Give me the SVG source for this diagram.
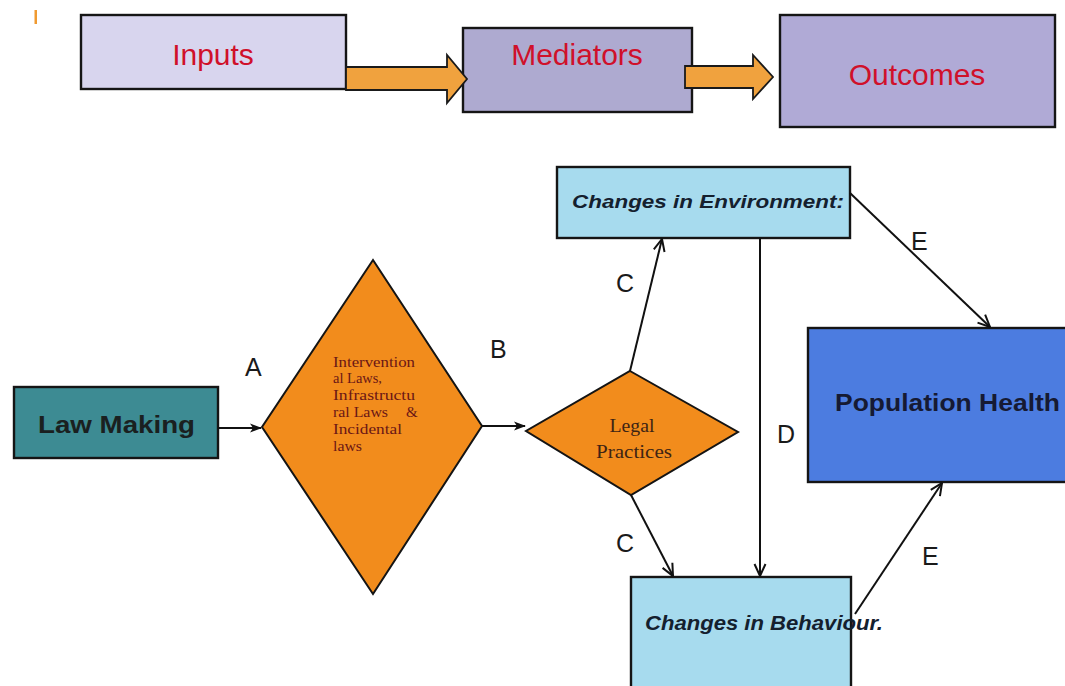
<svg xmlns="http://www.w3.org/2000/svg" width="1065" height="686" viewBox="0 0 1065 686">
<style>
.box{stroke:#151515;stroke-width:2.4}
.top{fill:#d0102a;font-family:"Liberation Sans",Arial,sans-serif;font-size:30px;text-anchor:middle}
.blk{fill:#f0a23e;stroke:#1a1a1a;stroke-width:1.8}
.dia{fill:#f28c1c;stroke:#141414;stroke-width:2}
.lbl{fill:#1a1a1a;font-family:"Liberation Sans",Arial,sans-serif;font-size:25px}
.ser{fill:#6a1616;font-family:"Liberation Serif","Times New Roman",serif;font-size:15px}
.bi{fill:#14202e;font-family:"Liberation Sans",Arial,sans-serif;font-weight:bold;font-style:italic}
.bd{font-family:"Liberation Sans",Arial,sans-serif;font-weight:bold}
.ln{stroke:#111;stroke-width:2;fill:none}
</style>
<defs>
<marker id="af" viewBox="0 0 12 10" refX="11" refY="5" markerWidth="12" markerHeight="10" markerUnits="userSpaceOnUse" orient="auto">
<path d="M0,0.5 L12,5 L0,9.5 L3,5 z" fill="#111"/>
</marker>
<marker id="ao" viewBox="0 0 14 14" refX="13" refY="7" markerWidth="14" markerHeight="14" markerUnits="userSpaceOnUse" orient="auto">
<path d="M1,1.5 L13,7 L1,12.5" fill="none" stroke="#111" stroke-width="2"/>
</marker>
</defs>
<rect width="1065" height="686" fill="#ffffff"/>
<rect x="34.5" y="10" width="2.5" height="14" fill="#f09a30"/>

<g id="inputs">
<rect class="box" x="81" y="15" width="265" height="74" fill="#d8d5ee"/>
<text class="top" x="213" y="65">Inputs</text>
</g>
<g id="mediators">
<rect class="box" x="463" y="28" width="229" height="84" fill="#aeaad0"/>
<text class="top" x="577" y="65">Mediators</text>
</g>
<g id="outcomes">
<rect class="box" x="780" y="15" width="275" height="112" fill="#b0aad6"/>
<text class="top" x="917" y="85">Outcomes</text>
</g>

<g id="law-making">
<rect class="box" x="14" y="387" width="204" height="71" fill="#3d8b93"/>
<text class="bd" x="38" y="433" font-size="24" fill="#1a2020" textLength="157" lengthAdjust="spacingAndGlyphs">Law Making</text>
</g>

<g id="laws">
<polygon class="dia" points="373,260 482,426 373,594 262,427"/>
<text class="ser" x="333" y="367" textLength="82" lengthAdjust="spacingAndGlyphs">Intervention</text>
<text class="ser" x="333" y="383" textLength="49" lengthAdjust="spacingAndGlyphs">al Laws,</text>
<text class="ser" x="333" y="400" textLength="82" lengthAdjust="spacingAndGlyphs">Infrastructu</text>
<text class="ser" x="333" y="417"><tspan textLength="55" lengthAdjust="spacingAndGlyphs">ral Laws</tspan><tspan x="406">&amp;</tspan></text>
<text class="ser" x="333" y="434" textLength="69" lengthAdjust="spacingAndGlyphs">Incidental</text>
<text class="ser" x="333" y="451" textLength="29" lengthAdjust="spacingAndGlyphs">laws</text>
</g>

<g id="legal-practices">
<polygon class="dia" points="630,371 738,432 631,495 526,431"/>
<text x="632" y="432" font-family="'Liberation Serif','Times New Roman',serif" font-size="18" fill="#3e2414" text-anchor="middle" textLength="45" lengthAdjust="spacingAndGlyphs">Legal</text>
<text x="634" y="458" font-family="'Liberation Serif','Times New Roman',serif" font-size="18" fill="#3e2414" text-anchor="middle" textLength="76" lengthAdjust="spacingAndGlyphs">Practices</text>
</g>

<g id="changes-environment">
<rect class="box" x="557" y="167" width="293" height="71" fill="#a7dbee"/>
<text class="bi" x="572" y="208" font-size="18" textLength="272" lengthAdjust="spacingAndGlyphs">Changes in Environment:</text>
</g>

<g id="population-health">
<rect class="box" x="808" y="328" width="270" height="154" fill="#4c7ce0"/>
<text class="bd" x="835" y="411" font-size="24" fill="#161a33" textLength="225" lengthAdjust="spacingAndGlyphs">Population Health</text>
</g>

<g id="changes-behaviour">
<rect class="box" x="631" y="577" width="220" height="125" fill="#a7dbee"/>
<text class="bi" x="645" y="630" font-size="20" textLength="238" lengthAdjust="spacingAndGlyphs">Changes in Behaviour.</text>
</g>

<g id="connectors">
<polygon class="blk" points="346,67 447,67 447,55 467,79 447,103 447,90 346,90"/>
<polygon class="blk" points="685,66 753,66 753,55 773,77 753,99 753,88 685,88"/>
<line class="ln" x1="218" y1="428" x2="261" y2="428" marker-end="url(#af)"/>
<line class="ln" x1="482" y1="426" x2="525" y2="426" marker-end="url(#af)"/>
<line class="ln" x1="630" y1="371" x2="662" y2="239" marker-end="url(#ao)"/>
<line class="ln" x1="631" y1="495" x2="673" y2="576" marker-end="url(#ao)"/>
<line class="ln" x1="760" y1="238" x2="760" y2="576" marker-end="url(#ao)"/>
<line class="ln" x1="850" y1="193" x2="990" y2="327" marker-end="url(#ao)"/>
<line class="ln" x1="855" y1="614" x2="942" y2="483" marker-end="url(#ao)"/>
</g>

<g id="connector-labels">
<text class="lbl" x="245" y="376">A</text>
<text class="lbl" x="490" y="358">B</text>
<text class="lbl" x="616" y="292">C</text>
<text class="lbl" x="616" y="552">C</text>
<text class="lbl" x="777" y="443">D</text>
<text class="lbl" x="911" y="250">E</text>
<text class="lbl" x="922" y="565">E</text>
</g>
</svg>
